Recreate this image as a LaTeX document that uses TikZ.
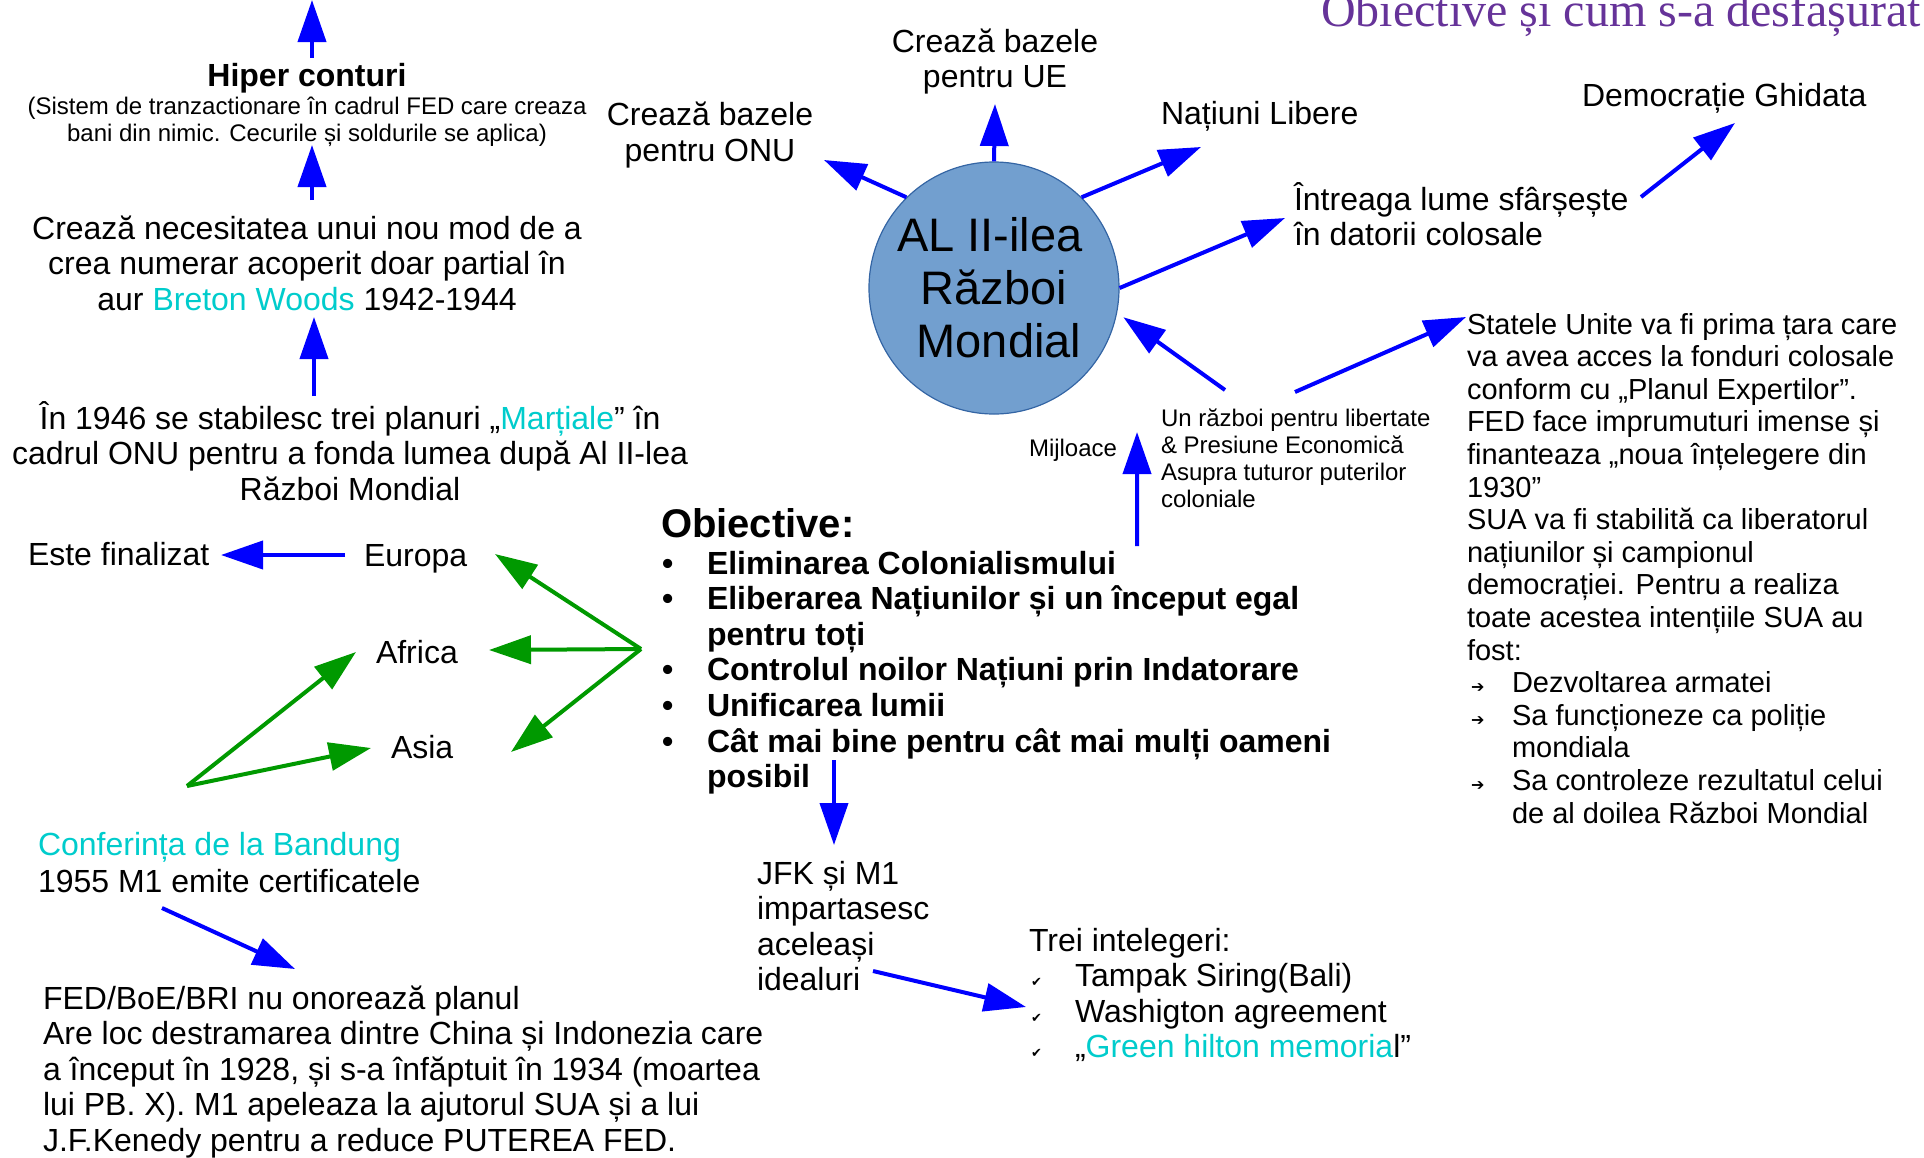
\documentclass[tikz,border=0pt]{standalone}
\usepackage{fontspec}
\setmainfont{Liberation Sans}
\newfontfamily\titlefont{Liberation Serif}
\newfontfamily\symfont{DejaVu Sans}
\usetikzlibrary{arrows.meta,shapes.geometric}
\definecolor{arrblue}{RGB}{0,0,255}
\definecolor{arrgreen}{RGB}{0,153,0}
\definecolor{cyantxt}{RGB}{0,204,204}
\definecolor{titlepurple}{RGB}{102,51,153}
\definecolor{circfill}{RGB}{114,159,207}
\definecolor{circline}{RGB}{52,101,164}
\newcommand\ctext[1]{\vtop{\halign{\hfil##\hfil\cr#1\crcr}}}
\newcommand\ltext[1]{\vtop{\halign{##\hfil\cr#1\crcr}}}
\newcommand\bul{\hbox to 45pt{\textbullet\hfil}}
\newcommand\indby[1]{\hskip#1\relax}
\newcommand\chk{\hbox to 46pt{\hskip2pt{\symfont\fontsize{13}{13}\selectfont ✔}\hfil}}
\newcommand\arr{\hbox to 45pt{\hskip4pt{\symfont\fontsize{16}{16}\selectfont ➔}\hfil}}
\tikzset{
  plain/.style={inner sep=0pt, outer sep=0pt},
  txt/.style={plain, font=\fontsize{32}{35.6}\selectfont},
  smalltxt/.style={plain, font=\fontsize{24}{27}\selectfont},
  barrow/.style={draw=arrblue, line width=4pt, -{Triangle[length=42pt,width=28pt]}},
  garrow/.style={draw=arrgreen, line width=4pt, -{Triangle[length=42pt,width=28pt]}},
}
\begin{document}
\begin{tikzpicture}[x=1pt,y=-1pt]
\useasboundingbox (0,0) rectangle (1924,1157);

% title
\node[plain, anchor=base east, font=\titlefont\fontsize{48}{55}\selectfont, text=titlepurple] (title) at (1921,26) {Obiective și cum s-a desfășurat};

% left column
\node[plain, anchor=base, font=\bfseries\fontsize{32}{36}\selectfont] (hiper) at (307,86) {Hiper conturi};
\node[smalltxt, anchor=base] (paren) at (307,114) {\ctext{(Sistem de tranzactionare în cadrul FED care creaza\cr bani din nimic. Cecurile și soldurile se aplica)}};
\node[txt, anchor=base] (necesit) at (307,239) {\ctext{Crează necesitatea unui nou mod de a\cr crea numerar acoperit doar partial în\cr aur \textcolor{cyantxt}{Breton Woods} 1942-1944}};
\node[txt, anchor=base] (plan) at (350,429) {\ctext{În 1946 se stabilesc trei planuri „\textcolor{cyantxt}{Marțiale}” în\cr cadrul ONU pentru a fonda lumea după Al II-lea\cr Război Mondial}};
\node[txt, anchor=base west] (finalizat) at (28,565) {Este finalizat};
\node[txt, anchor=base west] (europa) at (364,566) {Europa};
\node[txt, anchor=base west] (africa) at (376,663) {Africa};
\node[txt, anchor=base west] (asia) at (391,758) {Asia};
\node[txt, anchor=base west, font=\fontsize{32}{37}\selectfont] (bandung) at (38,855) {\ltext{\textcolor{cyantxt}{Conferința de la Bandung}\cr 1955 M1 emite certificatele}};
\node[txt, anchor=base west] (fed) at (43,1009) {\ltext{FED/BoE/BRI nu onorează planul\cr Are loc destramarea dintre China și Indonezia care\cr a început în 1928, și s-a înfăptuit în 1934 (moartea\cr lui PB. X). M1 apeleaza la ajutorul SUA și a lui\cr J.F.Kenedy pentru a reduce PUTEREA FED.}};

% middle
\node[plain, anchor=base west, font=\bfseries\fontsize{40}{46}\selectfont] (obj) at (661,537) {Obiective:};
\node[plain, anchor=base west, font=\bfseries\fontsize{32}{35.6}\selectfont] (objlist) at (662,574) {\ltext{\bul Eliminarea Colonialismului\cr \bul Eliberarea Națiunilor și un început egal\cr \indby{45pt}pentru toți\cr \bul Controlul noilor Națiuni prin Indatorare\cr \bul Unificarea lumii\cr \bul Cât mai bine pentru cât mai mulți oameni\cr \indby{45pt}posibil}};
\node[txt, anchor=base west] (jfk) at (757,884) {\ltext{JFK și M1\cr impartasesc\cr aceleași\cr idealuri}};
\node[txt, anchor=base west] (trei) at (1029,951) {\ltext{Trei intelegeri:\cr \chk Tampak Siring(Bali)\cr \chk Washigton agreement\cr \chk „\textcolor{cyantxt}{Green hilton memoria}l”}};

% circle
\node[ellipse, draw=circline, line width=1.2pt, fill=circfill, minimum width=250pt, minimum height=252pt, inner sep=0pt] (ww2) at (994,288) {};
\node[plain, anchor=base, font=\fontsize{47}{53}\selectfont] (ww2txt) at (994,251) {\ctext{AL II-ilea\hskip8pt\cr Război\cr \hskip10pt Mondial}};

\node[txt, anchor=base, font=\fontsize{32}{36}\selectfont] (onu) at (710,125) {\ctext{Crează bazele\cr pentru ONU}};
\node[txt, anchor=base] (ue) at (995,52) {\ctext{Crează bazele\cr pentru UE}};
\node[txt, anchor=base west] (natiuni) at (1161,124) {Națiuni Libere};
\node[txt, anchor=base west] (democ) at (1582,106) {Democrație Ghidata};
\node[txt, anchor=base west] (intreaga) at (1294,210) {\ltext{Întreaga lume sfârșește\cr în datorii colosale}};
\node[smalltxt, anchor=base west] (mijloace) at (1029,456) {Mijloace};
\node[smalltxt, anchor=base west] (razboi) at (1161,426) {\ltext{Un război pentru libertate\cr \& Presiune Economică\cr Asupra tuturor puterilor\cr coloniale}};
\node[plain, anchor=base west, font=\fontsize{29}{32.6}\selectfont] (statele) at (1467,334) {\ltext{Statele Unite va fi prima țara care\cr va avea acces la fonduri colosale\cr conform cu „Planul Expertilor”.\cr FED face imprumuturi imense și\cr finanteaza „noua înțelegere din\cr 1930”\cr SUA va fi stabilită ca liberatorul\cr națiunilor și campionul\cr democrației. Pentru a realiza\cr toate acestea intențiile SUA au\cr fost:\cr \arr Dezvoltarea armatei\cr \arr Sa funcționeze ca poliție\cr \indby{45pt}mondiala\cr \arr Sa controleze rezultatul celui\cr \indby{45pt}de al doilea Război Mondial}};

% free ends
\coordinate (topend) at (312,0);
\coordinate (hubR) at (641,649);
\coordinate (hubL) at (187,786);

% connectors
\draw[barrow] ([shift={(5pt,28pt)}]hiper.base) -- (topend);
\draw[barrow] ([shift={(5pt,39pt)}]necesit.base) -- ([shift={(5pt,-31pt)}]paren.base);
\draw[barrow] ([shift={(-36pt,33pt)}]plan.base) -- ([shift={(7pt,-78pt)}]necesit.base);
\draw[barrow] ([shift={(-19pt,11pt)}]europa.base west) -- ([shift={(193pt,10pt)}]finalizat.base west);
\draw[garrow] (hubR) -- ([shift={(131pt,12pt)}]europa.base west);
\draw[garrow] (hubR) -- ([shift={(113pt,13pt)}]africa.base west);
\draw[garrow] (hubR) -- ([shift={(120pt,6pt)}]asia.base west);
\draw[garrow] (hubL) -- ([shift={(-20pt,11pt)}]africa.base west);
\draw[garrow] (hubL) -- ([shift={(-20pt,10pt)}]asia.base west);
\draw[barrow] ([shift={(124pt,-53pt)}]bandung.base west) -- ([shift={(252pt,40pt)}]fed.base west);
\draw[barrow] ([shift={(172pt,-186pt)}]objlist.base west) -- ([shift={(77pt,39pt)}]jfk.base west);
\draw[barrow] ([shift={(116pt,-87pt)}]jfk.base west) -- ([shift={(-3pt,-56pt)}]trei.base west);
\draw[barrow] ([shift={(475pt,28pt)}]objlist.base west) -- ([shift={(20pt,24pt)}]mijloace.base east);
\draw[barrow] ([shift={(64pt,36pt)}]razboi.base west) -- ([shift={(7pt,-1pt)}]ww2.-13);
\draw[barrow] ([shift={(134pt,34pt)}]razboi.base west) -- ([shift={(-1pt,17pt)}]statele.base west);
\draw[barrow] (ww2.134) -- ([shift={(114pt,-35pt)}]onu.base);
\draw[barrow] (ww2.north) -- ([shift={(0pt,-52pt)}]ue.base);
\draw[barrow] (ww2.46) -- ([shift={(40pt,-23pt)}]natiuni.base west);
\draw[barrow] (ww2.east) -- ([shift={(-9pt,-8pt)}]intreaga.base west);
\draw[barrow] ([shift={(347pt,13pt)}]intreaga.base west) -- ([shift={(153pt,-17pt)}]democ.base west);
\end{tikzpicture}
\end{document}
